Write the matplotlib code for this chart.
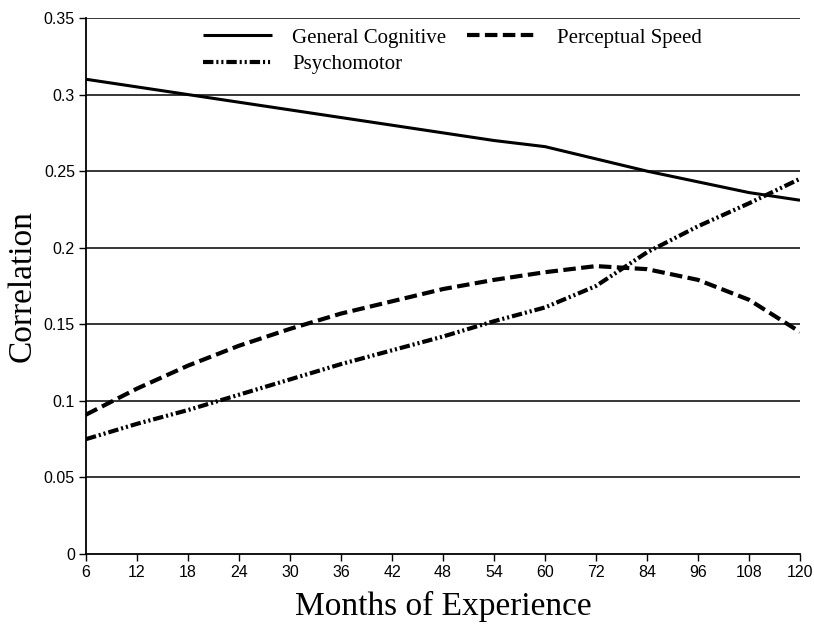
import matplotlib
matplotlib.use("Agg")
import matplotlib.pyplot as plt
import numpy as np

months = ["6", "12", "18", "24", "30", "36", "42", "48", "54", "60", "72", "84", "96", "108", "120"]
general_cognitive = [0.310, 0.305, 0.300, 0.295, 0.290, 0.285, 0.280, 0.275, 0.270, 0.266, 0.258, 0.250, 0.243, 0.236, 0.231]
perceptual_speed = [0.091, 0.108, 0.123, 0.136, 0.147, 0.157, 0.165, 0.173, 0.179, 0.184, 0.188, 0.186, 0.179, 0.166, 0.145]
psychomotor = [0.075, 0.085, 0.094, 0.104, 0.114, 0.124, 0.133, 0.142, 0.152, 0.161, 0.175, 0.197, 0.214, 0.229, 0.245]
yticks = [0, 0.05, 0.1, 0.15, 0.2, 0.25, 0.3, 0.35]
ytick_labels = ["0", "0.05", "0.1", "0.15", "0.2", "0.25", "0.3", "0.35"]

fig = plt.figure(figsize=(8.14, 6.26), dpi=100)
ax = fig.add_axes([86/814, 1-554/626, (800-86)/814, (554-18)/626])

x = np.arange(len(months))
for yv in yticks[1:]:
    ax.axhline(yv, color="black", lw=1.1, zorder=1)

l1, = ax.plot(x, general_cognitive, color="black", lw=2.2, solid_capstyle="butt", label="General Cognitive", zorder=3)
l2, = ax.plot(x, perceptual_speed, color="black", lw=3.0, linestyle=(0, (3, 1.3)), dash_capstyle="butt", label="Perceptual Speed", zorder=3)
l3, = ax.plot(x, psychomotor, color="black", lw=3.0, linestyle=(0, (2.5, 0.7, 0.5, 0.7, 0.5, 0.7)), dash_capstyle="butt", label="Psychomotor", zorder=3)

ax.set_xlim(0, len(months) - 1)
ax.set_ylim(0, 0.35)
ax.set_xticks(x)
ax.set_xticklabels(months, fontfamily="Liberation Sans", fontsize=11.5)
ax.set_yticks(yticks)
ax.set_yticklabels(ytick_labels, fontfamily="Liberation Sans", fontsize=11.5)
ax.tick_params(direction="out", length=5, width=1, color="black", pad=3)

for s in ["top", "right"]:
    ax.spines[s].set_visible(False)
for s in ["left", "bottom"]:
    ax.spines[s].set_linewidth(1.3)

ax.set_xlabel("Months of Experience", fontfamily="Liberation Serif", fontsize=24, labelpad=8)
ax.set_ylabel("Correlation", fontfamily="Liberation Serif", fontsize=24)
ax.yaxis.set_label_coords(-0.068, 0.5)

leg = ax.legend([l1, l3, l2], ["General Cognitive", "Psychomotor", "Perceptual Speed"],
                loc="upper left", bbox_to_anchor=(0.152, 0.997), borderaxespad=0, ncol=2, frameon=False,
                prop={"family": "Liberation Serif", "size": 15}, handlelength=3.3,
                columnspacing=1.0, handletextpad=1.0, labelspacing=0.35)

fig.savefig("out.png", dpi=100)
